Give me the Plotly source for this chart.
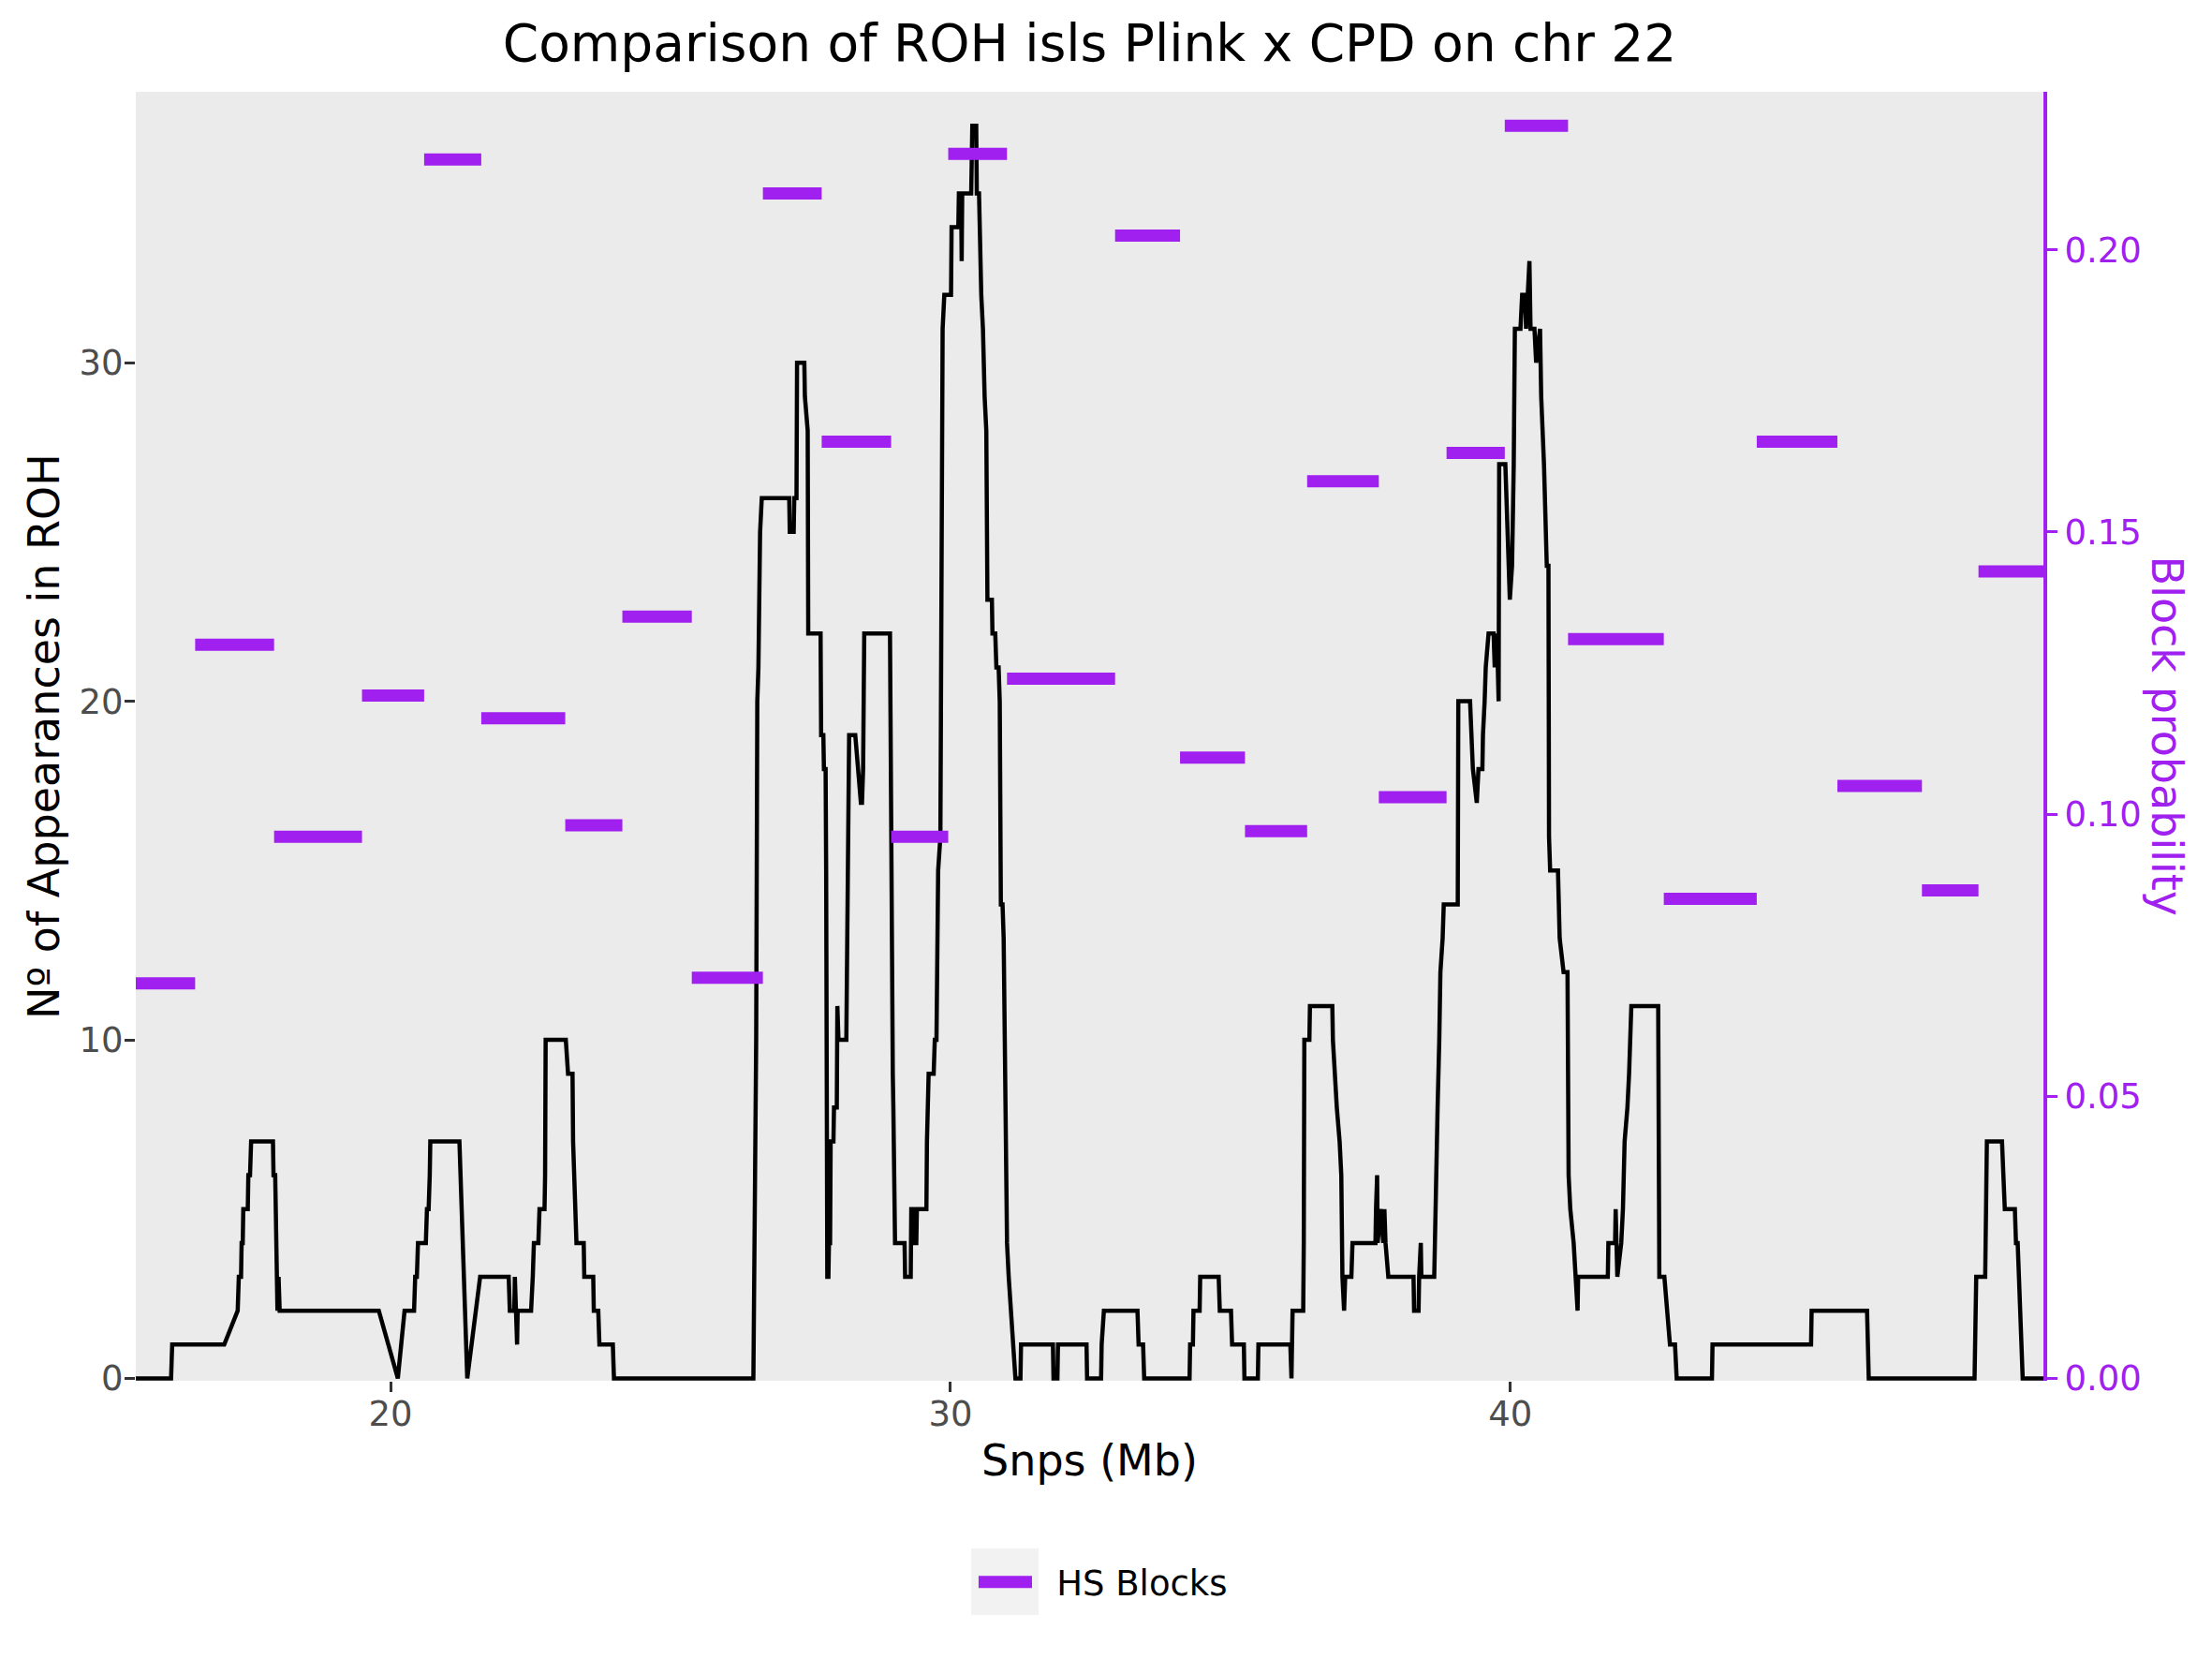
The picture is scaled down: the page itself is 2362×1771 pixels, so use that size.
import plotly.graph_objects as go

# ROH counts along chr 22: SNP position (Mb) and number of individuals with an ROH there
snp_mb = [
    15.45, 16.08, 16.10, 17.03, 17.27, 17.29, 17.33, 17.34, 17.36, 17.37,
    17.45, 17.46, 17.49, 17.51, 17.90, 17.91, 17.94, 17.96, 17.98, 18.00,
    18.02, 19.79, 20.13, 20.25, 20.42, 20.44, 20.47, 20.49, 20.63, 20.65,
    20.68, 20.70, 20.71, 21.23, 21.37, 21.60, 22.11, 22.13, 22.21, 22.22,
    22.26, 22.27, 22.51, 22.54, 22.56, 22.64, 22.66, 22.75, 22.76, 22.77,
    23.13, 23.17, 23.25, 23.26, 23.30, 23.32, 23.45, 23.46, 23.62, 23.63,
    23.71, 23.73, 23.97, 23.99, 26.48, 26.50, 26.52, 26.53, 26.55, 26.57,
    26.60, 26.63, 27.12, 27.13, 27.20, 27.21, 27.25, 27.26, 27.39, 27.40,
    27.45, 27.46, 27.68, 27.69, 27.73, 27.74, 27.77, 27.78, 27.80, 27.82,
    27.83, 27.85, 27.86, 27.91, 27.92, 27.97, 27.98, 28.00, 28.14, 28.15,
    28.16, 28.17, 28.19, 28.30, 28.35, 28.40, 28.42, 28.44, 28.45, 28.46,
    28.92, 28.93, 28.94, 28.96, 28.97, 28.98, 29.01, 29.18, 29.19, 29.29,
    29.30, 29.35, 29.36, 29.39, 29.40, 29.57, 29.58, 29.61, 29.70, 29.72,
    29.75, 29.78, 29.82, 29.86, 29.89, 30.01, 30.02, 30.14, 30.15, 30.19,
    30.20, 30.21, 30.37, 30.39, 30.46, 30.47, 30.51, 30.55, 30.58, 30.61,
    30.64, 30.66, 30.74, 30.75, 30.80, 30.82, 30.86, 30.88, 30.90, 30.93,
    30.95, 30.97, 31.01, 31.04, 31.08, 31.11, 31.16, 31.25, 31.26, 31.83,
    31.84, 31.91, 31.92, 32.43, 32.44, 32.69, 32.70, 32.74, 33.34, 33.36,
    33.44, 33.46, 34.27, 34.28, 34.33, 34.34, 34.45, 34.46, 34.79, 34.81,
    35.01, 35.03, 35.24, 35.25, 35.49, 35.50, 36.07, 36.09, 36.11, 36.30,
    36.31, 36.32, 36.41, 36.42, 36.82, 36.83, 36.86, 36.90, 36.95, 36.98,
    37.00, 37.03, 37.05, 37.16, 37.18, 37.59, 37.60, 37.62, 37.63, 37.68,
    37.73, 37.75, 37.77, 37.82, 38.27, 38.28, 38.36, 38.37, 38.40, 38.41,
    38.64, 38.65, 38.67, 38.70, 38.73, 38.75, 38.79, 38.81, 39.06, 39.07,
    39.28, 39.30, 39.33, 39.40, 39.43, 39.50, 39.51, 39.54, 39.56, 39.61,
    39.70, 39.72, 39.76, 39.79, 39.80, 39.91, 39.96, 39.99, 40.03, 40.06,
    40.08, 40.18, 40.21, 40.26, 40.28, 40.34, 40.36, 40.43, 40.46, 40.53,
    40.55, 40.60, 40.65, 40.68, 40.69, 40.71, 40.85, 40.88, 40.95, 41.02,
    41.04, 41.07, 41.13, 41.16, 41.20, 41.21, 41.74, 41.75, 41.87, 41.88,
    41.91, 41.98, 42.01, 42.04, 42.09, 42.12, 42.16, 42.64, 42.65, 42.66,
    42.75, 42.80, 42.85, 42.94, 42.97, 43.60, 43.61, 45.37, 45.38, 46.37,
    46.38, 46.40, 48.29, 48.30, 48.32, 48.48, 48.49, 48.50, 48.51, 48.78,
    48.80, 48.83, 49.01, 49.03, 49.06, 49.15, 49.52,
]
roh_count = [
    0, 0, 1, 1, 2, 3, 3, 4, 4, 5,
    5, 6, 6, 7, 7, 6, 6, 3, 2, 3,
    2, 2, 0, 2, 2, 3, 3, 4, 4, 5,
    5, 6, 7, 7, 0, 3, 3, 2, 2, 3,
    1, 2, 2, 3, 4, 4, 5, 5, 6, 10,
    10, 9, 9, 7, 5, 4, 4, 3, 3, 2,
    2, 1, 1, 0, 0, 5, 7, 10, 20, 21,
    25, 26, 26, 25, 25, 26, 26, 30, 30, 29,
    28, 22, 22, 19, 19, 18, 18, 15, 3, 3,
    4, 4, 7, 7, 8, 8, 11, 10, 10, 12,
    14, 16, 19, 19, 18, 17, 17, 18, 20, 22,
    22, 18, 15, 12, 9, 8, 4, 4, 3, 3,
    5, 5, 4, 4, 5, 5, 7, 9, 9, 10,
    10, 15, 16, 31, 32, 32, 34, 34, 35, 35,
    33, 35, 35, 37, 37, 35, 35, 32, 31, 29,
    28, 23, 23, 22, 22, 21, 21, 20, 14, 14,
    13, 10, 4, 3, 2, 1, 0, 0, 1, 1,
    0, 0, 1, 1, 0, 0, 1, 2, 2, 1,
    1, 0, 0, 1, 1, 2, 2, 3, 3, 2,
    2, 1, 1, 0, 0, 1, 1, 0, 2, 2,
    4, 10, 10, 11, 11, 10, 9, 8, 7, 6,
    3, 2, 3, 3, 4, 4, 5, 6, 4, 5,
    4, 5, 4, 3, 3, 2, 2, 3, 4, 3,
    3, 4, 6, 8, 10, 12, 13, 14, 14, 20,
    20, 19, 18, 17, 18, 18, 19, 20, 21, 22,
    22, 21, 22, 20, 27, 27, 24, 23, 24, 27,
    31, 31, 32, 32, 31, 33, 31, 31, 30, 31,
    29, 27, 24, 24, 16, 15, 15, 13, 12, 12,
    6, 5, 4, 3, 2, 3, 3, 4, 4, 5,
    3, 4, 5, 7, 8, 9, 11, 11, 7, 3,
    3, 2, 1, 1, 0, 0, 1, 1, 2, 2,
    1, 0, 0, 1, 3, 3, 4, 5, 7, 7,
    6, 5, 5, 4, 4, 0, 0,
]

# haplotype-sharing blocks (Mb) and their probability
block_start = [15.45, 16.51, 17.92, 19.49, 20.60, 21.62, 23.12, 24.14, 25.38,
               26.65, 27.70, 28.94, 29.96, 31.01, 32.94, 34.10, 35.26, 36.37,
               37.65, 38.86, 39.90, 41.03, 42.74, 44.40, 45.84, 47.35, 48.36]
block_end = [16.51, 17.92, 19.49, 20.60, 21.62, 23.12, 24.14, 25.38, 26.65,
             27.70, 28.94, 29.96, 31.01, 32.94, 34.10, 35.26, 36.37, 37.65,
             38.86, 39.90, 41.03, 42.74, 44.40, 45.84, 47.35, 48.36, 49.52]
block_prob = [0.070, 0.130, 0.096, 0.121, 0.216, 0.117, 0.098, 0.135, 0.071,
              0.210, 0.166, 0.096, 0.217, 0.124, 0.2025, 0.110, 0.097, 0.159,
              0.103, 0.164, 0.222, 0.131, 0.085, 0.166, 0.105, 0.0865, 0.143]

PURPLE = "#A020F0"
FONT = "DejaVu Sans"

# one trace for all blocks, segments split by None
bx, by = [], []
for s, e, p in zip(block_start, block_end, block_prob):
    bx += [s, e, None]
    by += [p, p, None]

fig = go.Figure()
fig.add_trace(go.Scatter(x=snp_mb, y=roh_count, mode="lines",
                         line=dict(color="black", width=4.5),
                         showlegend=False, name="ROH"))
fig.add_trace(go.Scatter(x=bx, y=by, mode="lines", yaxis="y2",
                         line=dict(color=PURPLE, width=13),
                         name="HS Blocks", legendgroup="hs", showlegend=False))
# legend entry only; the ggplot-like key itself is drawn with shapes below
fig.add_trace(go.Scatter(x=[None], y=[None], mode="lines", yaxis="y2",
                         line=dict(color="rgba(0,0,0,0)", width=13),
                         name="HS Blocks", legendgroup="hs"))

key_y = -0.156
shapes = [
    dict(type="rect", xref="paper", yref="paper", layer="above",
         x0=0.4379, x1=0.4733, y0=-0.1817, y1=-0.1301,
         fillcolor="#F2F2F2", line=dict(width=0)),
    dict(type="line", xref="paper", yref="paper", layer="above",
         x0=0.4418, x1=0.4698, y0=key_y, y1=key_y,
         line=dict(color=PURPLE, width=13)),
]

fig.update_layout(
    width=2362, height=1771,
    margin=dict(l=137, r=188, t=90, b=305),
    paper_bgcolor="white", plot_bgcolor="#EBEBEB",
    font=dict(family=FONT, size=37, color="black"),
    title=dict(text="Comparison of ROH isls Plink x CPD on chr 22",
               font=dict(size=55, color="black"),
               x=0.5, xref="paper", xanchor="center",
               y=0.9785, yref="container", yanchor="middle"),
    xaxis=dict(range=[15.45, 49.52], tickvals=[20, 30, 40],
               showgrid=False, zeroline=False, showline=False,
               ticks="outside", ticklen=11, tickwidth=3, tickcolor="#333333",
               ticklabelstandoff=-8,
               tickfont=dict(size=37, color="#4D4D4D"),
               title=dict(text="Snps (Mb)", font=dict(size=46), standoff=12)),
    yaxis=dict(range=[-0.07, 38.0], tickvals=[0, 10, 20, 30],
               showgrid=False, zeroline=False, showline=False,
               ticks="outside", ticklen=11, tickwidth=3, tickcolor="#333333",
               ticklabelstandoff=-6,
               tickfont=dict(size=37, color="#4D4D4D"),
               title=dict(text="Nº of Appearances in ROH", font=dict(size=46), standoff=6)),
    yaxis2=dict(range=[-0.07 / 38.0 * 0.228, 0.228], overlaying="y", side="right",
                tickvals=[0, 0.05, 0.10, 0.15, 0.20], tickformat=".2f",
                showgrid=False, zeroline=False,
                showline=True, linecolor=PURPLE, linewidth=4,
                ticks="outside", ticklen=11, tickwidth=3, tickcolor=PURPLE,
                tickfont=dict(size=37, color=PURPLE)),
    legend=dict(orientation="h", x=0.4365, xanchor="left",
                y=key_y, yanchor="middle", font=dict(size=37),
                itemwidth=84, bgcolor="rgba(0,0,0,0)"),
    shapes=shapes,
    annotations=[dict(text="Block probability", textangle=90,
                      x=1.065, y=0.5, xref="paper", yref="paper",
                      xanchor="center", yanchor="middle", showarrow=False,
                      font=dict(size=46, color=PURPLE))],
)

fig.write_html("out.html")
